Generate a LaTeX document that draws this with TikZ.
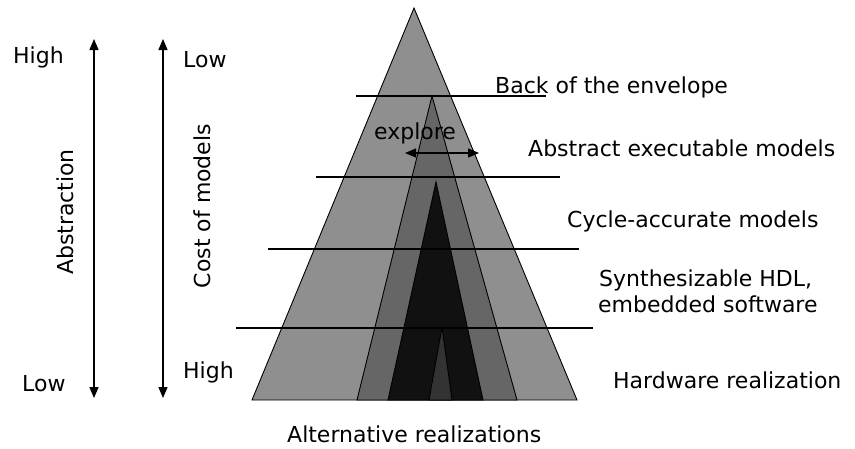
\documentclass[tikz,border=0pt]{standalone}
\usepackage{fontspec}
\setmainfont{DejaVu Sans}
\usetikzlibrary{arrows.meta}
\definecolor{shadeOuter}{HTML}{8F8F8F}
\definecolor{shadeMid}{HTML}{666666}
\definecolor{shadeCore}{HTML}{111111}
\definecolor{shadeTip}{HTML}{333333}
\begin{document}
\begin{tikzpicture}[x=1pt,y=-1pt,
  lbl/.style={font=\fontsize{22}{26}\selectfont, inner sep=0pt},
  levelline/.style={line width=1.3pt},
  tri/.style={draw=black, line width=0.9pt, line join=miter},
  dblarrow/.style={line width=1.3pt,
    {Triangle[length=11pt,width=9pt]}-{Triangle[length=11pt,width=9pt]}}]
\useasboundingbox (0,0) rectangle (855,448);
\fill[white] (0,0) rectangle (855,448);

% nested design-space triangles
\filldraw[tri, fill=shadeOuter] (414,8)   -- (577,400) -- (252,400) -- cycle;
\filldraw[tri, fill=shadeMid]   (432,96)  -- (517,400) -- (357,400) -- cycle;
\filldraw[tri, fill=shadeCore]  (436,182) -- (483,400) -- (388,400) -- cycle;
\filldraw[tri, fill=shadeTip]   (442,327) -- (452,400) -- (429,400) -- cycle;

% level separators
\coordinate (l1a) at (356,96);  \coordinate (l1b) at (546,96);
\coordinate (l2a) at (316,177); \coordinate (l2b) at (560,177);
\coordinate (l3a) at (268,249); \coordinate (l3b) at (579,249);
\coordinate (l4a) at (236,328); \coordinate (l4b) at (593,328);
\draw[levelline] (l1a) -- (l1b);
\draw[levelline] (l2a) -- (l2b);
\draw[levelline] (l3a) -- (l3b);
\draw[levelline] (l4a) -- (l4b);

% explore arrow
\node[lbl, anchor=base west] (explore) at (374,139) {explore};
\coordinate (exL) at (405,153); \coordinate (exR) at (479,153);
\draw[dblarrow] (exL) -- (exR);

% level labels
\node[lbl, anchor=base west] (back)  at (495,93)  {Back of the envelope};
\node[lbl, anchor=base west] (abs)   at (528,156) {Abstract executable models};
\node[lbl, anchor=base west] (cyc)   at (567,227) {Cycle-accurate models};
\node[lbl, anchor=base west] (syn)   at (599,286) {Synthesizable HDL,};
\node[lbl, anchor=base west] (emb)   at (598,312) {embedded software};
\node[lbl, anchor=base west] (hw)    at (613,388) {Hardware realization};
\node[lbl, anchor=base west] (alt)   at (287,442) {Alternative realizations};

% abstraction axis
\coordinate (abTop) at (94,39); \coordinate (abBot) at (94,398);
\draw[dblarrow] (abTop) -- (abBot);
\node[lbl, anchor=base west] (abHigh) at (13,63)  {High};
\node[lbl, anchor=base west] (abLow)  at (22,391) {Low};
\node[lbl, rotate=90] (abName) at (65,212) {Abstraction};

% cost axis
\coordinate (coTop) at (163,39); \coordinate (coBot) at (163,398);
\draw[dblarrow] (coTop) -- (coBot);
\node[lbl, anchor=base west] (coLow)  at (183,67)  {Low};
\node[lbl, anchor=base west] (coHigh) at (183,378) {High};
\node[lbl, rotate=90] (coName) at (202,206) {Cost of models};
\end{tikzpicture}
\end{document}
